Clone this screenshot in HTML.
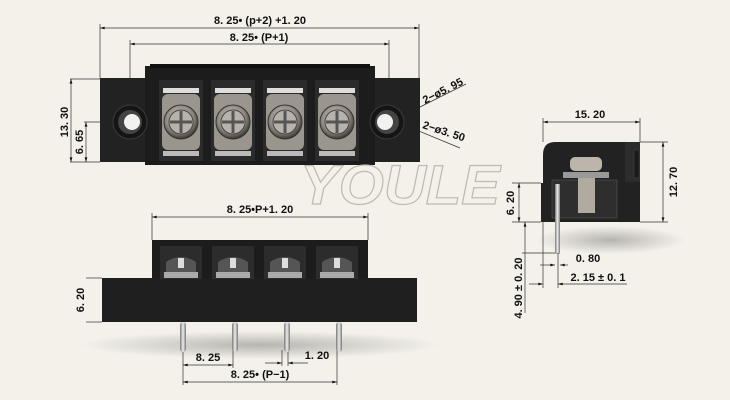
<!DOCTYPE html>
<html><head><meta charset="utf-8"><style>
html,body{margin:0;padding:0;background:#f3f1ea;}
svg{display:block}
text{font-family:"Liberation Sans",sans-serif;font-weight:bold;fill:#111;}
</style></head><body>
<svg width="730" height="400" viewBox="0 0 730 400" xmlns="http://www.w3.org/2000/svg">
<defs>
<marker id="a" viewBox="0 0 10 6" refX="10" refY="3" markerWidth="8" markerHeight="4" orient="auto-start-reverse"><path d="M0,0L10,3L0,6z" fill="#111"/></marker>
<radialGradient id="scr" cx="0.45" cy="0.4" r="0.6"><stop offset="0" stop-color="#ddd8cf"/><stop offset="0.7" stop-color="#8a857c"/><stop offset="1" stop-color="#3a3733"/></radialGradient>
<linearGradient id="pin" x1="0" x2="1"><stop offset="0" stop-color="#777"/><stop offset="0.5" stop-color="#eee"/><stop offset="1" stop-color="#777"/></linearGradient>
<radialGradient id="sh" cx="0.5" cy="0.5" r="0.5"><stop offset="0" stop-color="#000" stop-opacity="0.25"/><stop offset="1" stop-color="#000" stop-opacity="0"/></radialGradient>
</defs>
<rect width="730" height="400" fill="#f3f1ea"/>
<g stroke="#333" stroke-width="0.7" fill="none">
<line x1="100" y1="28" x2="419" y2="28" marker-start="url(#a)" marker-end="url(#a)"/>
<line x1="130" y1="44" x2="389" y2="44" marker-start="url(#a)" marker-end="url(#a)"/>
<line x1="100" y1="24" x2="100" y2="78"/><line x1="419" y1="24" x2="419" y2="78"/>
<line x1="130" y1="40" x2="130" y2="122"/><line x1="389" y1="40" x2="389" y2="122"/>
<line x1="70" y1="79" x2="100" y2="79"/><line x1="70" y1="162" x2="100" y2="162"/>
<line x1="84" y1="122" x2="130" y2="122"/>
<line x1="71" y1="79" x2="71" y2="162" marker-start="url(#a)" marker-end="url(#a)"/>
<line x1="86" y1="122" x2="86" y2="162" marker-start="url(#a)" marker-end="url(#a)"/>
<line x1="410" y1="112" x2="466" y2="84"/>
<line x1="380" y1="115" x2="460" y2="148"/>
</g>
<text x="260" y="24" font-size="11" text-anchor="middle">8. 25• (p+2) +1. 20</text>
<text x="259" y="41" font-size="11" text-anchor="middle">8. 25• (P+1)</text>
<text transform="translate(68,122) rotate(-90)" font-size="11" text-anchor="middle">13. 30</text>
<text transform="translate(83,142) rotate(-90)" font-size="11" text-anchor="middle">6. 65</text>
<text transform="translate(425,104) rotate(-27)" font-size="11">2−ø5. 95</text>
<text transform="translate(422,128) rotate(18)" font-size="11">2−ø3. 50</text>
<rect x="100" y="78" width="320" height="84" fill="#222"/>
<rect x="145" y="66" width="230" height="99" fill="#1c1c1c"/>
<rect x="150" y="64" width="220" height="4" fill="#111"/>
<g>
<circle cx="130" cy="122" r="17" fill="#151515" stroke="#3a3a3a"/>
<circle cx="130" cy="122" r="12" fill="#444"/>
<circle cx="132" cy="122" r="8" fill="#f2f2f0"/>
<circle cx="387" cy="122" r="17" fill="#151515" stroke="#3a3a3a"/>
<circle cx="387" cy="122" r="12" fill="#444"/>
<circle cx="385" cy="122" r="8" fill="#f2f2f0"/>
</g>
<g id="cell">
<rect x="159" y="80" width="44" height="81" fill="#2b2b2b"/>
<rect x="163" y="88" width="36" height="5" fill="#ddd"/>
<rect x="162" y="94" width="38" height="56" rx="6" fill="#9b968d"/>
<circle cx="181" cy="122" r="17" fill="url(#scr)" stroke="#333"/>
<circle cx="181" cy="122" r="12" fill="#b8b3aa" stroke="#444"/>
<path d="M170,122h22M181,111v22" stroke="#555" stroke-width="3"/>
<rect x="163" y="151" width="36" height="5" fill="#bbb"/>
</g>
<use href="#cell" x="52"/><use href="#cell" x="104"/><use href="#cell" x="156"/>
<text x="300" y="204" font-size="56" font-style="italic" textLength="200" lengthAdjust="spacingAndGlyphs" stroke="#bdbab2" stroke-width="1.2" style="fill:none">YOULE</text>
<g stroke="#333" stroke-width="0.7" fill="none">
<line x1="152" y1="217" x2="368" y2="217" marker-start="url(#a)" marker-end="url(#a)"/>
<line x1="152" y1="213" x2="152" y2="240"/><line x1="368" y1="213" x2="368" y2="240"/>
<line x1="86" y1="278" x2="102" y2="278"/><line x1="86" y1="322" x2="102" y2="322"/>
<line x1="183" y1="350" x2="183" y2="385"/><line x1="233" y1="350" x2="233" y2="368"/>
<line x1="337" y1="350" x2="337" y2="385"/>
<line x1="282" y1="350" x2="282" y2="366"/><line x1="288" y1="350" x2="288" y2="366"/>
<line x1="183" y1="365" x2="233" y2="365" marker-start="url(#a)" marker-end="url(#a)"/>
<line x1="183" y1="382" x2="337" y2="382" marker-start="url(#a)" marker-end="url(#a)"/>
<line x1="265" y1="363" x2="282" y2="363" marker-end="url(#a)"/>
<line x1="308" y1="363" x2="288" y2="363" marker-end="url(#a)"/>
</g>
<text x="260" y="213" font-size="11" text-anchor="middle">8. 25•P+1. 20</text>
<text transform="translate(84,300) rotate(-90)" font-size="11" text-anchor="middle">6. 20</text>
<text x="208" y="361" font-size="11" text-anchor="middle">8. 25</text>
<text x="317" y="359" font-size="11" text-anchor="middle">1. 20</text>
<text x="260" y="378" font-size="11" text-anchor="middle">8. 25• (P−1)</text>
<ellipse cx="260" cy="345" rx="180" ry="14" fill="url(#sh)"/>
<rect x="152" y="240" width="216" height="45" fill="#1c1c1c"/>
<rect x="102" y="278" width="315" height="44" fill="#1f1f1f"/>
<g id="fc">
<rect x="160" y="246" width="42" height="33" fill="#2c2c2c"/>
<path d="M166,272 v-10 q15,-10 30,0 v10z" fill="#555"/>
<rect x="178" y="258" width="6" height="10" fill="#ddd"/>
<rect x="164" y="272" width="34" height="6" fill="#aaa"/>
<rect x="180" y="322" width="6" height="30" rx="3" fill="url(#pin)"/>
</g>
<use href="#fc" x="52"/><use href="#fc" x="104"/><use href="#fc" x="156"/>
<g stroke="#333" stroke-width="0.7" fill="none">
<line x1="543" y1="122" x2="640" y2="122" marker-start="url(#a)" marker-end="url(#a)"/>
<line x1="543" y1="118" x2="543" y2="142"/><line x1="640" y1="118" x2="640" y2="142"/>
<line x1="640" y1="142" x2="668" y2="142"/><line x1="640" y1="222" x2="668" y2="222"/>
<line x1="663" y1="142" x2="663" y2="222" marker-start="url(#a)" marker-end="url(#a)"/>
<line x1="512" y1="183" x2="541" y2="183"/><line x1="512" y1="222" x2="541" y2="222"/>
<line x1="519" y1="183" x2="519" y2="222" marker-start="url(#a)" marker-end="url(#a)"/>
<line x1="525" y1="222" x2="525" y2="313" marker-start="url(#a)"/>
<line x1="522" y1="253" x2="560" y2="253"/>
<line x1="540" y1="265" x2="555" y2="265" marker-end="url(#a)"/>
<line x1="568" y1="265" x2="560" y2="265" marker-end="url(#a)"/>
<line x1="529" y1="284" x2="543" y2="284" marker-end="url(#a)"/>
<line x1="627" y1="284" x2="558" y2="284" marker-end="url(#a)"/>
<line x1="543" y1="222" x2="543" y2="288"/><line x1="558" y1="253" x2="558" y2="288"/>
</g>
<text x="590" y="118" font-size="11" text-anchor="middle">15. 20</text>
<text transform="translate(677,182) rotate(-90)" font-size="11" text-anchor="middle">12. 70</text>
<text transform="translate(514,203) rotate(-90)" font-size="11" text-anchor="middle">6. 20</text>
<text transform="translate(522,288) rotate(-90)" font-size="11" text-anchor="middle">4. 90 ± 0. 20</text>
<text x="588" y="262" font-size="11" text-anchor="middle">0. 80</text>
<text x="598" y="281" font-size="11" text-anchor="middle">2. 15 ± 0. 1</text>
<ellipse cx="610" cy="240" rx="75" ry="14" fill="url(#sh)"/>
<path d="M555,142 H640 V222 H541 V183 H543 V155 Q543,142 555,142z" fill="#222"/>
<rect x="625" y="142" width="15" height="40" fill="#2c2c2c"/>
<rect x="634" y="150" width="5" height="28" fill="#1a1a1a" stroke="#444" stroke-width="0.5"/>
<rect x="552" y="180" width="65" height="38" fill="#2e2e2e" stroke="#555" stroke-width="0.6"/>
<rect x="570" y="157" width="32" height="14" rx="5" fill="#bbb5ab"/>
<rect x="563" y="172" width="46" height="6" fill="#999"/>
<rect x="578" y="178" width="17" height="35" fill="#b1aa9f"/>
<rect x="555" y="184" width="5" height="69" fill="url(#pin)"/>
</svg>
</body></html>
